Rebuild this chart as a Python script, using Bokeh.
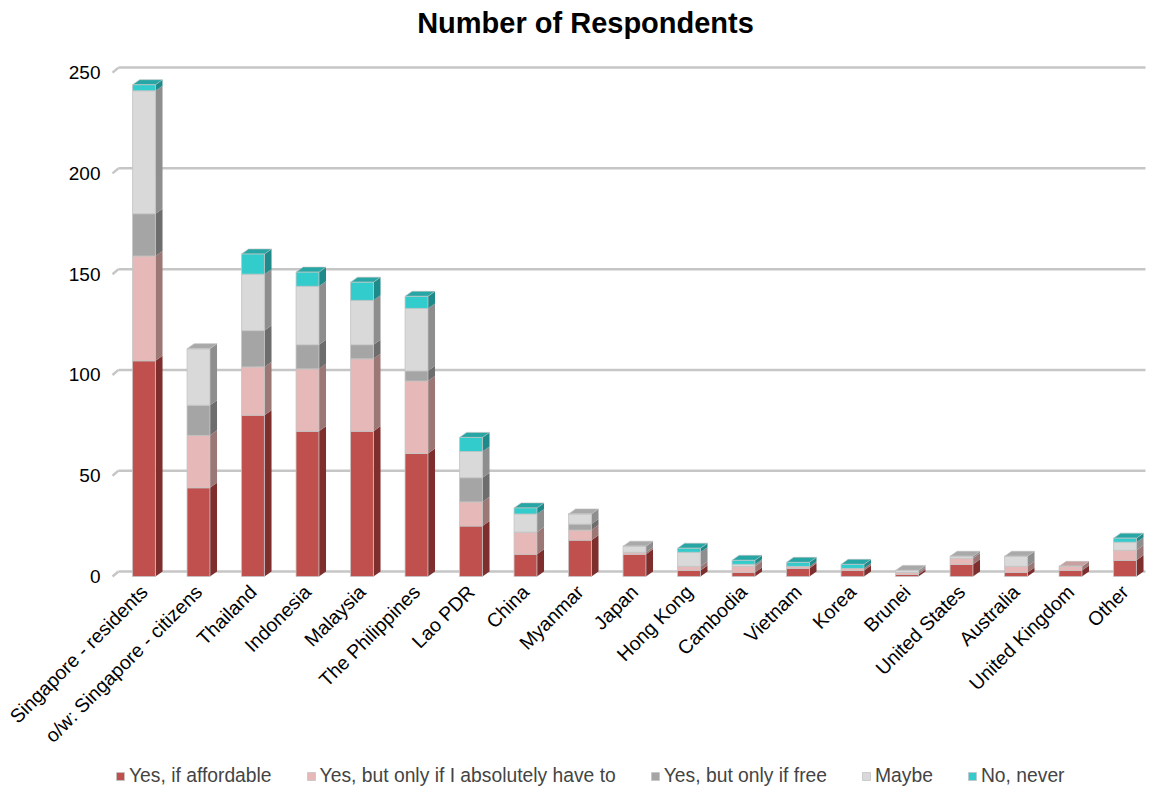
from math import pi
from bokeh.plotting import figure
from bokeh.models import ColumnDataSource, Range1d, FixedTicker, Legend, LegendItem, Label
from bokeh.embed import file_html
from bokeh.resources import INLINE

categories = ["Singapore - residents", "o/w: Singapore - citizens", "Thailand", "Indonesia",
              "Malaysia", "The Philippines", "Lao PDR", "China", "Myanmar", "Japan",
              "Hong Kong", "Cambodia", "Vietnam", "Korea", "Brunei", "United States",
              "Australia", "United Kingdom", "Other"]
yes_affordable = [107, 44, 80, 72, 72, 61, 25, 11, 18, 11, 3, 2, 4, 3, 1, 6, 2, 3, 8]
yes_have_to = [52, 26, 24, 31, 36, 36, 12, 11, 5, 1, 2, 3, 1, 1, 1, 3, 3, 2, 5]
yes_free = [21, 15, 18, 12, 7, 5, 12, 0, 3, 0, 0, 0, 0, 0, 0, 0, 0, 0, 0]
maybe = [61, 28, 28, 29, 22, 31, 13, 9, 5, 3, 7, 1, 0, 0, 1, 1, 5, 0, 4]
no_never = [3, 0, 10, 7, 9, 6, 7, 3, 0, 0, 2, 2, 2, 2, 0, 0, 0, 0, 2]

series_names = ["Yes, if affordable", "Yes, but only if I absolutely have to",
                "Yes, but only if free", "Maybe", "No, never"]
y_ticks = [0, 50, 100, 150, 200, 250]
title_text = "Number of Respondents"

FONT = "Liberation Sans"
front_colors = ["#C0504D", "#E6B9B8", "#A5A5A5", "#D9D9D9", "#33CCCC"]
side_colors = ["#7E2F2D", "#9B7776", "#6D6D6D", "#8E8E8E", "#1F8A8A"]
top_colors = ["#A44341", "#C8A09F", "#8F8F8F", "#A9A9A9", "#27A6A6"]

BAR_W = 0.42
DX = 0.13
DY = 2.5
X_LEFT = -0.615    # left edge of the plotting wall
X_RIGHT = 18.376   # right edge of the plotting wall

series = [yes_affordable, yes_have_to, yes_free, maybe, no_never]
keys = ["s0", "s1", "s2", "s3", "s4"]
xs_idx = list(range(len(categories)))
data = {"x": xs_idx}
for k, s in zip(keys, series):
    data[k] = s
src = ColumnDataSource(data)

p = figure(frame_width=1156, frame_height=791, output_backend="svg", toolbar_location=None,
           x_range=Range1d(-2.633, 18.578), y_range=Range1d(-106.7, 285.8),
           min_border_left=0, min_border_right=0, min_border_top=0,
           min_border_bottom=0)
p.outline_line_color = None
p.xgrid.visible = False
p.ygrid.visible = False
p.background_fill_color = "white"
p.border_fill_color = "white"

# back-wall gridlines and diagonal ticks
p.segment(x0=[X_LEFT + 0.147] * len(y_ticks), y0=[t + DY for t in y_ticks],
          x1=[X_RIGHT] * len(y_ticks), y1=[t + DY for t in y_ticks],
          line_color="#C6C6C6", line_width=2.5)
p.segment(x0=[X_LEFT + 0.037] * len(y_ticks), y0=y_ticks,
          x1=[X_LEFT + 0.147] * len(y_ticks), y1=[t + DY for t in y_ticks],
          line_color="#C6C6C6", line_width=2.5)

# 3D side and top faces
side_xs, side_ys, side_c = [], [], []
top_xs, top_ys, top_c = [], [], []
for i in xs_idx:
    base = 0
    last = None
    for j, s in enumerate(series):
        v = s[i]
        if v <= 0:
            continue
        xr = i + BAR_W / 2
        side_xs.append([xr, xr + DX, xr + DX, xr])
        side_ys.append([base, base + DY, base + v + DY, base + v])
        side_c.append(side_colors[j])
        base += v
        last = j
    if last is not None:
        xl = i - BAR_W / 2
        xr = i + BAR_W / 2
        top_xs.append([xl, xl + DX, xr + DX, xr])
        top_ys.append([base, base + DY, base + DY, base])
        top_c.append(top_colors[last])

p.patches(xs=side_xs, ys=side_ys, fill_color=side_c, line_color=None)
p.patches(xs=top_xs, ys=top_ys, fill_color=top_c, line_color="#BDBDBD", line_width=0.6)

renderers = p.vbar_stack(keys, x="x", width=BAR_W, color=front_colors, source=src,
                         line_color="#C4C4C4", line_width=0.8)

# axes
p.yaxis.ticker = FixedTicker(ticks=y_ticks)
p.yaxis.fixed_location = X_LEFT
p.yaxis.axis_line_color = None
p.yaxis.major_tick_line_color = None
p.yaxis.minor_tick_line_color = None
p.yaxis.major_tick_out = 0
p.yaxis.major_label_standoff = 10
p.yaxis.major_label_text_font = FONT
p.yaxis.major_label_text_font_size = "19px"
p.yaxis.major_label_text_color = "black"

p.xaxis.ticker = FixedTicker(ticks=xs_idx)
p.xaxis.fixed_location = -2
p.xaxis.major_label_overrides = {i: c for i, c in enumerate(categories)}
p.xaxis.major_label_orientation = pi / 4
p.xaxis.axis_line_color = None
p.xaxis.major_tick_line_color = None
p.xaxis.minor_tick_line_color = None
p.xaxis.major_tick_out = 0
p.xaxis.major_label_standoff = 8
p.xaxis.major_label_text_font = FONT
p.xaxis.major_label_text_font_size = "19.5px"
p.xaxis.major_label_text_color = "black"

# title
p.add_layout(Label(x=585, y=769, x_units="screen", y_units="screen", text=title_text,
                   text_font=FONT, text_font_size="29px", text_font_style="bold",
                   text_color="black", text_align="center", text_baseline="middle"))

legend = Legend(items=[LegendItem(label=n, renderers=[r]) for n, r in zip(series_names, renderers)],
                orientation="horizontal", location=(115, 4),
                glyph_width=10, glyph_height=10, label_standoff=4, spacing=34,
                padding=0, border_line_color=None, background_fill_alpha=0,
                label_text_font=FONT, label_text_font_size="19.3px", margin=0)
p.add_layout(legend, "center")

open("out.html", "w").write(file_html(p, INLINE))
